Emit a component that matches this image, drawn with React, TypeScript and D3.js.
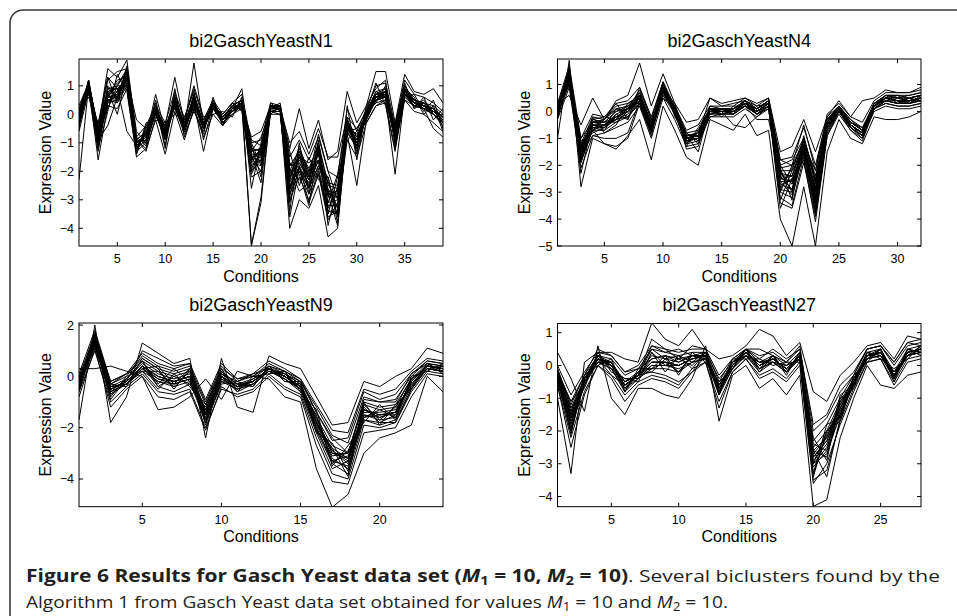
import React from 'react';
import * as d3 from 'd3';

// ---------- data ----------
const n1Title = 'bi2GaschYeastN1';
const n4Title = 'bi2GaschYeastN4';
const n9Title = 'bi2GaschYeastN9';
const n27Title = 'bi2GaschYeastN27';

const n1XTicks = [5, 10, 15, 20, 25, 30, 35];
const n1YTicks = [-4, -3, -2, -1, 0, 1];
const n4XTicks = [5, 10, 15, 20, 25, 30];
const n4YTicks = [-5, -4, -3, -2, -1, 0, 1];
const n9XTicks = [5, 10, 15, 20];
const n9YTicks = [-4, -2, 0, 2];
const n27XTicks = [5, 10, 15, 20, 25];
const n27YTicks = [-4, -3, -2, -1, 0, 1];

const n1Lines: number[][] = [
  [-0.1,1.2,-0.6,0.9,1.0,1.5,-1.2,-0.9,0.2,-0.5,0.6,-0.4,0.7,-0.3,0.4,-0.1,0.3,0.5,-1.2,-1.3,0.3,0.3,-2.0,-1.2,-2.0,-1.0,-2.5,-2.6,-0.3,-0.9,0.1,0.7,0.8,-0.6,0.9,0.5,0.4,0.2,-0.1],
  [-0.3,0.9,-1.0,0.4,0.5,1.1,-0.9,-0.6,0.0,-0.8,0.3,-0.6,0.4,-0.5,0.2,-0.3,0.1,0.3,-1.8,-1.6,0.1,0.1,-2.6,-1.8,-2.5,-1.6,-3.1,-3.0,-0.6,-1.2,-0.1,0.5,0.6,-0.9,0.7,0.3,0.2,0.0,-0.3],
  [0.2,1.1,-0.5,1.6,1.3,1.9,-0.8,-0.4,0.3,-0.3,0.8,-0.2,0.9,-0.2,0.5,0.0,0.4,0.7,-1.0,-0.9,0.4,0.3,-1.5,-0.9,-1.6,-0.8,-2.0,-2.2,0.2,-0.6,0.2,1.0,1.1,-0.4,1.2,0.7,0.6,0.4,0.1],
  [-2.3,1.0,-1.6,0.3,0.2,0.9,-1.5,-1.2,-0.2,-1.4,0.1,-0.9,0.2,-0.8,0.0,-0.4,0.0,0.2,-2.2,-2.0,0.0,0.0,-3.0,-2.2,-3.0,-2.0,-3.6,-3.4,-0.9,-1.5,-0.3,0.3,0.4,-1.2,0.5,0.1,0.0,-0.3,-0.6],
  [0.0,0.8,-0.7,0.7,1.1,1.4,-1.1,-0.8,0.7,-0.6,0.5,-0.5,1.8,-0.4,0.3,-0.2,0.2,0.4,-4.6,-3.1,0.2,0.2,-2.1,-1.4,-2.1,-1.2,-2.7,-2.7,-0.3,-1.0,0.0,0.6,0.7,-0.7,0.8,0.4,0.3,0.1,-0.2],
  [-0.4,1.2,-0.9,-0.4,0.6,1.2,-1.3,-1.0,0.0,-0.9,0.3,-0.6,0.4,-1.3,0.2,-0.3,0.1,0.3,-1.6,-1.5,0.1,0.2,-2.4,-1.7,-2.3,-1.4,-2.9,-2.9,-0.5,-1.1,-0.1,0.5,0.6,-0.8,0.7,0.3,0.2,0.0,-0.3],
  [0.1,0.7,-0.4,1.2,1.5,1.6,-0.9,-0.6,0.2,-0.4,1.3,-0.3,0.6,-0.3,0.4,-0.1,0.3,0.5,-1.3,-1.2,0.3,0.3,-1.8,-1.3,-1.9,-1.1,-2.4,-2.5,-0.2,-0.8,0.1,0.8,0.9,-0.5,1.0,0.5,0.4,0.3,0.0],
  [-0.2,1.0,-0.8,0.5,0.4,1.0,-1.0,-0.7,0.1,-0.7,0.4,-0.5,0.5,-0.4,0.3,-0.2,0.2,0.4,-1.4,-1.4,0.2,0.2,-4.0,-3.0,-3.3,-2.5,-4.3,-4.0,-0.4,-1.0,0.0,0.6,0.7,-0.8,0.8,0.4,0.3,0.1,-0.2],
  [0.3,1.1,-0.6,0.8,0.9,-0.6,-1.1,-0.8,0.1,-0.6,0.5,-0.4,0.5,-0.3,0.3,-0.2,0.2,0.4,-1.3,-1.2,0.2,0.3,-1.2,0.2,-1.2,-0.2,-1.6,-1.3,0.8,-0.3,0.3,1.5,1.5,-0.3,1.4,0.8,0.7,0.9,0.4],
  [-0.1,0.9,-0.7,0.6,0.7,1.3,-0.2,-0.5,0.0,-0.7,0.4,-0.5,0.4,-0.4,0.2,-0.2,0.1,0.3,-0.8,-0.6,0.3,0.2,-1.0,-0.6,-1.4,-0.5,-1.5,-1.5,-0.1,-0.5,0.1,0.4,0.5,-0.6,0.6,0.3,0.2,0.1,-0.2],
  [-0.3,1.0,-0.9,0.5,0.6,1.2,-1.0,-0.8,0.1,-0.8,0.3,-0.5,0.5,-0.5,0.3,-0.2,0.2,0.4,-1.7,-1.8,0.2,0.2,-2.5,-1.9,-2.4,-1.6,-3.2,-3.2,-0.7,-2.5,-0.2,0.5,0.6,-2.1,0.7,0.3,0.2,-0.5,-0.8],
  [0.0,1.1,-0.7,0.7,0.8,1.4,-0.9,-1.2,0.2,-0.6,0.5,-0.4,0.6,-0.4,0.4,-0.1,0.3,0.5,-1.5,-1.4,0.2,0.3,-2.2,-1.6,-2.2,-1.3,-2.7,-2.8,-0.4,-1.0,0.0,0.7,0.7,-0.8,0.8,0.4,0.3,0.1,-0.1],
  [-0.2,0.9,-0.8,0.4,0.8,1.2,-1.1,-0.7,0.0,-0.8,0.4,-0.6,0.5,-0.4,0.2,-0.2,0.1,0.3,-4.6,-2.9,0.1,0.1,-2.3,-1.5,-2.3,-1.3,-2.8,-2.9,-0.4,-1.1,-0.1,0.6,0.6,-0.9,0.7,0.4,0.2,0.0,-0.3],
  [-0.1,1.0,-0.8,0.6,0.7,1.3,-1.0,-0.9,0.1,-0.7,0.4,-0.5,0.5,-0.4,0.3,-0.2,0.2,0.9,-1.5,-1.3,0.2,0.2,-2.2,-1.4,-2.2,-1.3,-2.8,-2.7,-0.4,-0.9,0.0,0.6,0.7,-0.7,0.8,0.4,0.3,0.1,-0.2],
  [-0.2,1.0,-0.7,0.6,0.6,1.3,-1.0,-0.7,0.1,-0.7,0.5,-0.5,0.5,-0.4,0.3,-0.2,0.2,0.4,-0.9,-1.1,0.3,0.2,-1.7,-2.0,-2.6,-1.8,-2.2,-3.6,-0.4,-1.0,0.0,0.6,0.8,-0.8,0.8,0.4,0.3,0.1,-0.2],
  [-0.2,1.1,-0.8,0.6,0.7,1.3,-1.0,-0.7,0.1,-0.7,0.4,-0.5,0.5,-0.4,0.3,-0.2,0.2,0.4,-2.0,-1.6,0.2,0.2,-2.8,-2.0,-2.8,-1.9,-3.4,-3.5,-0.4,-1.0,0.0,0.6,0.7,-0.8,0.8,0.4,0.3,0.1,-0.2],
  [0.2,0.6,-0.3,1.3,0.4,1.7,-0.6,-1.0,0.4,-1.1,0.9,-0.8,0.2,-0.7,0.6,-0.4,0.4,0.2,-1.1,-2.2,0.4,0.1,-1.3,-2.5,-1.5,-2.3,-2.2,-3.8,-0.1,-1.4,0.3,0.9,1.2,-1.1,0.6,0.7,0.1,0.5,-0.5],
  [-0.5,1.2,-1.2,0.1,1.4,0.8,-1.4,-0.3,-0.2,-0.3,0.0,-0.2,1.0,-0.1,0.0,0.1,-0.1,0.6,-2.6,-1.0,0.0,0.3,-3.4,-1.0,-2.8,-0.9,-3.5,-2.2,-0.9,-0.6,-0.3,0.3,0.5,-0.4,1.1,0.2,0.6,-0.2,0.2],
  [0.1,1.0,-0.4,0.8,0.0,1.4,-1.3,-0.5,0.3,-1.2,0.7,-0.1,0.8,-0.9,0.3,0.0,0.4,0.1,-1.9,-1.3,0.3,0.2,-2.9,-1.3,-2.0,-1.7,-2.6,-3.3,0.3,-1.6,0.1,1.1,0.3,-1.3,0.9,0.6,0.0,0.3,-0.6],
  [-0.6,0.8,-1.3,0.9,0.9,1.0,-0.9,-1.3,-0.1,-0.4,0.2,-0.6,0.3,-0.2,0.5,-0.3,0.0,0.3,-1.0,-1.8,0.2,0.4,-1.7,-2.1,-3.2,-1.1,-3.9,-2.5,-0.6,-0.5,-0.1,0.7,0.9,-0.5,0.5,0.3,0.5,0.0,-0.4],
  [0.0,1.2,-0.6,0.2,1.0,1.6,-1.1,-0.8,0.5,-0.9,0.6,-0.3,0.6,-0.5,0.2,-0.1,0.3,0.5,-1.3,-0.8,0.1,0.0,-2.7,-1.5,-1.7,-1.4,-3.1,-2.1,-0.2,-1.2,0.1,0.4,1.0,-1.0,0.7,0.5,0.2,0.2,-0.1],
  [-0.4,0.9,-0.9,1.0,0.5,1.1,-1.4,-0.4,0.0,-0.6,0.3,-0.7,0.1,-0.6,0.4,-0.4,0.2,0.2,-2.1,-1.4,0.3,0.2,-1.9,-2.7,-2.4,-2.1,-3.4,-3.4,-0.7,-0.9,-0.2,0.6,0.4,-0.6,0.9,0.2,0.4,0.0,-0.3],
  [-0.1,1.1,-0.5,0.6,1.2,1.3,-0.8,-1.1,0.2,-0.5,0.5,-0.4,0.4,-0.3,0.3,-0.2,0.1,0.4,-1.7,-1.2,0.2,0.3,-2.3,-1.1,-2.2,-0.7,-2.0,-3.0,-0.3,-1.3,0.0,0.8,0.6,-0.9,0.8,0.5,0.3,0.2,-0.2],
  [-0.2,1.0,-1.1,0.4,0.7,1.5,-1.2,-0.6,0.1,-0.8,0.4,-0.5,0.7,-0.4,0.3,-0.2,0.2,0.4,-1.4,-2.4,0.2,0.2,-3.6,-1.9,-2.6,-1.8,-2.8,-3.9,-0.5,-0.7,0.0,0.5,0.8,-0.7,0.7,0.4,0.3,0.1,-0.2],
  [0.1,1.1,-0.7,1.3,0.9,1.2,-1.0,-0.9,0.2,-0.7,0.6,-0.5,0.3,-0.5,0.4,-0.2,0.2,0.3,-1.2,-1.7,0.3,0.2,-2.0,-2.3,-2.0,-1.6,-2.4,-3.3,-0.3,-0.8,0.1,0.7,0.6,-0.8,1.0,0.4,0.3,0.2,-0.3],
  [-0.3,0.8,-0.8,0.9,0.6,1.6,-1.1,-0.7,0.2,-0.6,0.5,-0.3,0.5,-0.4,0.2,-0.1,0.2,0.4,-2.0,-1.3,0.2,0.3,-2.6,-1.4,-2.6,-1.2,-3.3,-2.6,-0.5,-1.0,-0.1,0.6,0.8,-0.6,0.9,0.4,0.2,0.1,-0.2],
  [-0.2,1.0,-0.6,0.6,1.0,1.0,-1.2,-0.6,0.0,-0.7,0.3,-0.6,0.6,-0.5,0.3,-0.3,0.1,0.5,-1.6,-1.2,0.2,0.2,-1.8,-1.7,-2.3,-1.3,-2.7,-3.5,-0.4,-1.1,0.0,0.5,0.7,-0.9,0.7,0.3,0.4,0.0,-0.3],
  [0.0,1.1,-1.0,0.5,0.5,1.4,-0.9,-1.0,0.1,-0.8,0.5,-0.4,0.4,-0.3,0.4,-0.2,0.3,0.3,-1.5,-2.0,0.1,0.2,-3.1,-1.8,-3.1,-2.1,-3.7,-3.1,-0.6,-1.2,0.0,0.7,0.8,-0.8,0.8,0.5,0.3,0.2,-0.1],
];

const n4Lines: number[][] = [
  [0.0,1.5,-1.3,-0.3,-0.4,0.0,0.2,0.7,-0.4,1.0,0.1,-0.9,-0.8,0.1,0.1,0.1,0.4,0.1,0.4,-2.2,-2.2,-1.0,-2.7,-0.3,0.2,-0.4,-0.7,0.3,0.6,0.6,0.6,0.7],
  [-0.2,1.1,-1.8,-0.7,-0.7,-0.4,-0.2,0.3,-0.8,0.6,-0.1,-1.2,-1.1,-0.1,-0.1,-0.1,0.2,-0.1,0.2,-2.9,-3.0,-1.6,-3.4,-0.7,0.0,-0.6,-0.9,0.1,0.4,0.3,0.3,0.4],
  [-1.0,1.9,-2.8,-1.0,-1.2,-1.4,-0.9,-0.3,-1.8,0.2,-0.7,-1.7,-2.0,-0.3,-0.5,-0.7,-0.1,-0.9,-0.7,-4.0,-5.0,-2.8,-5.0,-1.5,-0.3,-1.0,-1.2,-0.2,-0.3,-0.3,-0.2,0.0],
  [0.3,0.6,-0.5,0.5,-0.3,0.4,0.6,1.8,0.2,1.4,0.3,-0.4,-0.3,0.5,0.3,0.4,0.5,0.3,0.5,-1.5,-1.3,-0.3,-1.5,-0.2,0.4,-0.2,0.4,0.5,0.8,0.7,0.7,0.9],
  [0.1,1.3,-1.4,-0.5,-0.6,-0.2,0.0,0.5,-0.6,0.8,0.0,-1.0,-0.9,0.0,0.0,0.0,0.3,0.0,0.3,-2.6,-2.6,-1.3,-3.1,-0.5,0.1,-0.5,-0.8,0.2,0.5,0.4,0.4,0.5],
  [-0.1,1.4,-1.6,-0.9,-1.0,-1.0,-0.8,0.4,-0.7,0.9,0.0,-1.1,-1.0,-0.1,0.0,-0.1,0.2,-0.1,0.2,-2.7,-2.9,-1.4,-3.3,-0.6,0.0,-0.6,-0.9,0.1,0.4,0.4,0.3,0.4],
  [0.0,1.2,-1.2,-0.2,-0.3,0.2,0.3,0.6,-0.5,0.7,0.2,-0.8,-0.7,0.1,0.1,0.1,0.3,0.1,0.4,-2.0,-1.8,-1.0,-2.4,-0.3,0.2,-0.3,-0.6,0.3,0.6,0.5,0.5,0.6],
  [0.2,1.6,-1.5,-0.6,-0.5,-0.3,0.1,0.8,-0.3,1.1,0.1,-1.4,-1.3,0.1,0.0,0.0,0.3,0.0,0.3,-3.2,-3.5,-1.7,-3.8,-0.8,0.0,-0.6,-1.0,0.1,0.3,0.2,0.2,0.3],
  [-0.1,1.0,-1.0,-0.4,-0.4,0.0,0.1,0.4,-0.6,0.8,0.3,-1.0,-0.9,0.5,0.2,0.3,0.4,0.2,0.3,-1.8,-1.7,-0.6,-2.0,-0.2,0.2,-0.4,-0.7,0.2,0.6,0.5,0.5,0.6],
  [0.0,1.3,-1.9,-0.6,-0.6,-0.3,-0.1,0.5,-0.7,0.8,-0.1,-1.1,-1.0,-0.2,-0.1,-0.1,0.2,-0.1,0.2,-2.8,-2.5,-1.5,-2.9,-0.6,0.1,-0.5,-0.8,0.2,0.5,0.4,0.4,0.5],
  [0.1,1.3,-1.5,-0.5,-0.5,-0.2,0.0,0.5,-0.6,0.8,0.0,-1.0,-0.9,0.0,0.0,-0.5,-0.6,-0.2,0.2,-2.4,-2.4,-1.2,-3.0,-0.5,0.1,-0.5,-0.8,0.2,0.5,0.4,0.4,0.5],
  [-0.2,1.2,-1.4,-0.7,-1.2,-1.3,-1.0,0.3,-0.5,0.7,0.0,-0.9,-0.8,0.0,-0.1,0.0,0.2,-0.3,-0.3,-2.3,-2.7,-1.3,-3.2,-0.4,0.1,-0.5,-0.8,0.2,0.5,0.4,0.4,0.5],
  [0.0,1.4,-1.6,-0.4,-0.5,-0.1,0.1,0.6,-0.7,0.9,0.1,-1.1,-0.8,0.1,0.1,0.1,0.4,0.1,0.4,-2.5,-2.6,-1.4,-2.8,-0.5,0.1,-0.5,-0.8,0.2,0.5,0.4,0.4,0.5],
  [0.1,1.1,-1.3,-0.4,-0.3,0.1,0.2,0.5,-0.5,0.7,0.0,-1.0,-0.9,0.0,0.1,0.0,0.3,0.0,0.3,-2.1,-2.0,-1.1,-2.6,-0.4,0.2,-0.4,-0.7,0.3,0.5,0.4,0.4,0.5],
  [-0.1,1.3,-1.7,-0.5,-0.6,-0.2,0.0,0.4,-0.6,0.8,0.0,-1.0,-1.0,0.0,0.0,0.0,0.3,0.0,0.3,-3.0,-3.2,-1.5,-3.6,-0.6,0.0,-0.5,-0.8,0.1,0.4,0.3,0.3,0.4],
  [0.0,1.2,-1.4,-0.5,-0.5,-0.2,0.0,0.5,-0.6,0.8,0.0,-1.0,-0.9,0.0,0.0,0.0,0.3,0.0,0.3,-2.5,-2.4,-1.3,-3.0,-0.5,0.1,-0.5,-0.8,0.2,0.5,0.4,0.4,0.5],
  [0.3,1.7,-1.0,-0.1,-0.2,0.3,0.4,0.9,-0.2,1.1,0.2,-0.7,-0.5,0.2,0.2,0.2,0.5,0.2,0.5,-1.8,-2.0,-0.5,-2.2,-0.1,0.3,-0.2,-0.4,0.4,0.7,0.7,0.7,0.8],
  [-0.3,0.9,-2.1,-0.9,-0.8,-0.6,-0.4,0.2,-1.0,0.5,-0.3,-1.3,-1.2,-0.2,-0.2,-0.2,0.1,-0.2,0.1,-3.4,-3.6,-1.9,-3.9,-0.9,-0.1,-0.7,-1.0,0.0,0.2,0.1,0.1,0.2],
  [0.2,1.0,-1.2,-0.7,-0.3,0.3,-0.3,0.9,-0.3,0.5,0.1,-1.3,-0.6,0.1,-0.2,0.2,0.2,0.1,0.4,-2.1,-3.3,-1.0,-2.5,-0.4,0.2,-0.6,-0.9,0.3,0.4,0.6,0.3,0.6],
  [-0.3,1.6,-1.7,-0.2,-0.8,-0.5,0.2,0.2,-0.8,1.1,-0.2,-0.8,-1.2,0.0,0.1,-0.1,0.4,-0.1,0.1,-3.0,-2.0,-1.6,-3.5,-0.7,0.0,-0.4,-0.6,0.1,0.6,0.3,0.5,0.4],
  [0.1,1.2,-2.3,-0.4,-0.4,-0.4,0.0,0.7,-0.5,0.6,0.1,-0.9,-1.5,0.1,0.0,0.1,0.3,0.0,0.3,-2.4,-2.9,-1.2,-2.2,-0.3,0.1,-0.5,-0.9,0.2,0.5,0.5,0.6,0.7],
  [-0.2,1.4,-1.1,-0.8,-0.6,0.1,-0.2,0.3,-0.9,0.9,-0.1,-1.2,-0.7,-0.1,0.0,0.0,0.2,0.0,0.2,-3.6,-2.5,-1.8,-4.1,-0.9,0.0,-0.7,-1.1,0.1,0.3,0.2,0.2,0.3],
  [0.2,1.5,-1.6,-0.3,-0.2,-0.3,0.3,0.5,-0.4,0.7,0.2,-1.1,-1.0,0.2,0.1,0.1,0.4,0.1,0.4,-2.2,-3.0,-0.9,-2.6,-0.4,0.2,-0.3,-0.7,0.3,0.6,0.6,0.5,0.6],
  [-0.1,1.1,-1.9,-0.6,-0.7,-0.1,-0.3,0.6,-0.7,0.8,0.0,-0.8,-1.1,0.0,-0.1,0.0,0.3,-0.1,0.3,-3.3,-2.2,-1.5,-3.7,-0.6,0.0,-0.5,-0.8,0.2,0.4,0.3,0.3,0.5],
  [0.0,1.6,-1.4,-0.4,-0.3,0.1,0.0,0.6,-0.5,1.0,0.1,-1.0,-0.8,0.1,0.0,0.1,0.3,0.1,0.3,-2.0,-2.7,-1.4,-3.3,-0.5,0.1,-0.5,-0.8,0.2,0.5,0.4,0.5,0.6],
  [0.1,1.0,-1.7,-0.7,-0.5,-0.3,-0.2,0.4,-0.8,0.7,0.0,-1.1,-1.0,0.0,0.0,0.0,0.2,0.0,0.3,-2.9,-2.1,-1.1,-2.9,-0.6,0.1,-0.6,-0.9,0.1,0.4,0.3,0.4,0.4],
  [-0.2,1.3,-1.3,-0.5,-0.6,-0.2,0.1,0.5,-0.6,0.8,0.1,-0.9,-0.9,0.0,0.1,0.0,0.3,0.0,0.3,-2.6,-3.1,-1.5,-3.4,-0.5,0.1,-0.5,-0.8,0.2,0.5,0.5,0.4,0.5],
  [0.1,1.4,-1.8,-0.4,-0.4,-0.2,0.0,0.6,-0.6,0.9,0.0,-1.0,-0.9,0.0,0.0,0.0,0.3,0.0,0.3,-2.3,-2.4,-1.0,-2.6,-0.4,0.1,-0.4,-0.7,0.2,0.5,0.4,0.4,0.5],
];

const n9Lines: number[][] = [
  [-0.2,1.6,-0.4,-0.1,0.6,0.2,0.0,0.2,-1.3,0.2,-0.3,-0.1,0.4,0.1,-0.3,-1.6,-2.7,-3.0,-1.1,-1.3,-1.2,-0.1,0.5,0.4],
  [-0.5,1.2,-0.7,-0.3,0.2,-0.2,-0.4,-0.2,-1.8,-0.2,-0.5,-0.3,0.2,-0.1,-0.5,-2.0,-3.3,-3.5,-1.5,-1.7,-1.6,-0.4,0.3,0.2],
  [-1.7,2.0,-1.8,-0.8,1.3,0.9,0.5,0.7,-2.4,0.7,-1.2,-1.4,0.8,0.5,0.3,-0.8,-1.9,-1.8,-0.2,-0.4,0.0,0.3,1.1,0.9],
  [0.3,0.3,0.4,0.2,0.0,-1.3,-1.2,-0.8,-0.1,-0.9,0.2,0.0,-0.1,-0.8,-1.0,-3.6,-5.1,-4.6,-3.0,-2.4,-2.2,-1.9,0.0,-0.6],
  [-0.3,1.4,-0.5,-0.2,0.4,0.0,-0.2,0.0,-1.5,0.0,-0.4,-0.2,0.3,0.0,-0.4,-1.8,-3.0,-3.2,-1.3,-1.5,-1.4,-0.2,0.4,0.3],
  [-0.1,1.7,-0.3,0.0,0.8,0.4,0.2,0.4,-1.0,0.4,-0.2,0.0,0.5,0.2,-0.2,-1.2,-2.3,-2.6,-0.8,-1.0,-0.9,0.0,0.6,0.5],
  [-0.6,1.0,-1.0,-0.4,0.1,-0.6,-0.7,-0.5,-2.0,-0.5,-0.7,-0.5,0.1,-0.4,-0.7,-2.4,-3.8,-4.0,-1.9,-2.0,-1.8,-0.6,0.2,0.1],
  [-0.2,1.5,-0.6,-0.1,0.5,0.1,-0.1,0.1,-1.4,0.1,-0.3,-0.2,0.3,0.1,-0.3,-1.7,-2.9,-3.4,-1.2,-1.8,-1.5,-0.2,0.4,0.3],
  [-0.4,1.3,-0.4,-0.3,0.3,-0.1,-0.3,-0.1,-1.6,-0.1,-0.4,-0.3,0.2,0.0,-0.5,-1.9,-3.1,-3.0,-1.4,-1.4,-1.3,-0.3,0.3,0.2],
  [-0.3,1.4,-0.5,-0.2,1.0,0.7,0.4,0.5,-1.5,0.0,-0.4,-0.2,0.3,0.0,-0.4,-1.8,-2.8,-3.2,-1.3,-1.6,-1.4,-0.2,0.4,0.3],
  [-0.2,1.5,-0.5,-0.2,0.4,-0.4,-0.6,-0.3,-1.4,0.1,-0.4,-0.2,0.3,0.0,-0.4,-1.8,-3.2,-3.6,-1.6,-1.5,-1.5,-0.3,0.4,0.3],
  [0.0,1.6,-0.2,0.1,0.7,0.3,0.1,0.3,-1.1,0.3,-0.1,0.0,0.4,0.2,-0.1,-1.4,-2.5,-2.4,-0.6,-0.9,-0.7,0.1,0.6,0.5],
  [-0.4,1.2,-0.6,-0.3,0.3,-0.2,-0.3,-0.1,-1.7,-0.1,-0.5,-0.3,0.2,-0.1,-0.5,-2.1,-3.4,-3.8,-1.7,-1.9,-1.7,-0.5,0.3,0.2],
  [-0.3,1.4,-0.5,-0.2,0.4,0.0,-0.2,0.0,-1.5,0.0,-0.4,-0.2,0.3,0.0,-0.4,-1.6,-3.0,-3.0,-1.0,-1.2,-1.1,-0.1,0.4,0.3],
  [-0.3,1.3,-0.6,-0.3,0.4,-0.1,-0.2,0.0,-1.5,0.0,-0.4,-0.2,0.3,0.0,-0.4,-2.0,-3.3,-3.1,-1.5,-1.6,-1.4,-0.2,0.4,0.3],
  [-0.3,1.4,-0.5,-0.2,0.4,0.0,-0.2,0.0,-1.5,0.0,-0.4,-0.2,0.3,0.0,-0.4,-1.8,-2.9,-3.3,-1.3,-1.5,-1.4,-0.2,0.4,0.3],
  [0.1,1.8,-0.2,0.1,0.9,0.5,0.3,0.5,-0.9,0.5,-0.1,0.1,0.6,0.3,-0.1,-1.1,-2.1,-2.2,-0.5,-0.7,-0.5,0.2,0.7,0.6],
  [-0.8,1.1,-1.2,-0.5,0.0,-0.8,-0.9,-0.6,-2.1,-0.4,-0.8,-0.6,0.0,-0.5,-0.8,-2.7,-4.1,-4.2,-2.2,-2.1,-2.0,-0.8,0.1,0.0],
  [-0.1,1.2,-0.8,0.0,0.2,-0.5,0.1,-0.4,-1.2,0.3,-0.6,0.0,0.1,0.2,-0.6,-1.3,-3.5,-2.7,-1.8,-1.1,-1.7,0.0,0.2,0.5],
  [-0.5,1.7,-0.3,-0.4,0.7,0.3,-0.5,0.3,-1.8,-0.3,-0.2,-0.4,0.4,-0.2,-0.2,-2.2,-2.6,-3.7,-1.0,-1.9,-1.1,-0.5,0.5,0.1],
  [-0.2,1.3,-0.9,-0.1,0.6,-0.3,0.3,-0.2,-1.3,0.2,-0.5,-0.1,0.2,0.1,-0.5,-1.5,-3.4,-2.9,-1.6,-1.3,-1.6,-0.1,0.3,0.4],
  [-0.6,1.5,-0.4,-0.3,0.2,0.2,-0.4,0.2,-1.9,-0.2,-0.3,-0.4,0.4,-0.2,-0.3,-2.1,-2.8,-3.9,-1.1,-1.7,-1.2,-0.4,0.5,0.2],
  [0.0,1.0,-0.3,0.1,0.6,-0.4,0.0,-0.3,-1.1,0.1,-0.2,0.1,0.3,0.1,-0.2,-1.4,-2.4,-3.0,-0.9,-1.0,-1.0,0.1,0.5,0.4],
  [-0.4,1.6,-0.7,-0.2,0.3,0.4,-0.3,0.3,-1.7,0.0,-0.6,-0.3,0.3,-0.1,-0.6,-2.2,-3.6,-3.3,-1.7,-1.8,-1.8,-0.5,0.3,0.2],
];

const n27Lines: number[][] = [
  [-0.2,-1.4,-0.4,0.3,0.1,-0.5,-0.2,0.3,0.2,0.1,0.3,0.4,-0.6,0.1,0.5,0.1,0.3,0.0,0.4,-2.5,-2.0,-1.1,-0.4,0.4,0.5,-0.2,0.5,0.6],
  [-0.4,-1.9,-0.6,0.1,-0.1,-0.8,-0.4,-0.1,-0.1,-0.2,0.1,0.2,-0.9,-0.1,0.3,-0.1,0.1,-0.2,0.2,-3.1,-2.6,-1.5,-0.6,0.2,0.3,-0.4,0.3,0.4],
  [0.4,-0.4,-1.4,0.6,-1.0,-1.5,-0.7,-0.7,-0.9,-1.0,-0.4,0.6,-1.7,-0.3,0.0,-0.7,-0.4,-0.9,-0.3,-4.3,-4.1,-2.2,-1.0,0.0,-0.6,-0.7,-0.3,-0.2],
  [-1.0,-3.3,0.1,0.4,0.4,0.2,0.1,1.3,0.8,0.6,1.1,0.5,0.2,0.3,0.6,1.1,0.9,0.3,0.7,-0.8,-1.1,-0.3,0.1,0.6,0.7,0.2,0.9,0.8],
  [-0.3,-1.6,-0.5,0.2,0.0,-0.6,-0.3,0.1,0.1,0.0,0.2,0.3,-0.7,0.0,0.4,0.0,0.2,-0.1,0.3,-2.8,-2.3,-1.3,-0.5,0.3,0.4,-0.3,0.4,0.5],
  [-0.1,-1.2,-0.3,0.3,0.2,-0.3,-0.1,0.5,0.4,0.3,0.4,0.4,-0.4,0.1,0.5,0.3,0.4,0.1,0.5,-2.0,-1.6,-0.8,-0.3,0.5,0.6,0.0,0.6,0.7],
  [-0.6,-2.5,-0.9,0.0,-0.4,-1.1,-0.6,-0.4,-0.5,-0.7,-0.2,0.1,-1.3,-0.2,0.2,-0.4,-0.2,-0.5,0.0,-3.6,-3.0,-1.8,-0.8,0.1,0.2,-0.6,0.1,0.2],
  [-0.2,-1.5,-0.4,0.2,0.1,-0.5,-0.3,0.6,0.4,0.5,0.3,0.3,-0.6,0.0,0.4,0.0,0.2,-0.1,0.3,-2.7,-2.2,-1.2,-0.5,0.3,0.4,-0.3,0.4,0.5],
  [-0.3,-1.7,-0.5,0.1,0.0,-0.7,-0.3,-0.2,-0.3,-0.5,-0.2,0.3,-0.8,0.0,0.3,-0.2,0.1,-0.2,0.2,-3.0,-2.5,-1.4,-0.5,0.2,0.4,-0.3,0.3,0.4],
  [-0.2,-1.3,-0.4,0.3,0.0,-0.5,-0.3,0.2,0.3,0.1,0.3,0.3,-0.6,0.1,0.4,0.1,0.2,-0.1,0.3,-2.6,-3.4,-1.6,-0.5,0.3,0.4,-0.3,0.4,0.5],
  [-0.3,-1.8,-0.6,0.2,0.1,-0.6,-0.3,0.0,0.0,0.0,0.2,0.3,-0.7,0.0,0.4,0.0,0.2,-0.1,0.3,-3.3,-2.1,-1.2,-0.4,0.3,0.4,-0.3,0.4,0.5],
  [-0.4,-1.6,-0.5,0.2,-0.3,-0.6,-0.3,0.1,0.1,0.0,0.2,0.3,-0.7,0.0,0.4,0.0,0.2,-0.1,0.3,-2.9,-2.4,-1.4,-0.6,0.3,0.5,-0.3,0.4,0.5],
  [-0.2,-1.1,-0.3,0.5,0.3,-0.2,-0.1,0.2,0.3,0.2,0.6,0.5,-0.5,0.2,0.5,0.5,0.3,0.1,0.6,-2.3,-1.8,-1.0,-0.3,0.5,0.6,0.1,0.7,0.6],
  [-0.3,-2.0,-0.5,0.1,-0.1,-0.7,-0.4,0.0,0.0,-0.1,0.1,0.2,-0.8,-0.1,0.3,-0.1,0.1,-0.2,0.2,-3.0,-2.7,-1.5,-0.6,0.2,0.3,-0.4,0.3,0.4],
  [-0.3,-1.6,-0.5,0.2,0.0,-0.6,-0.3,0.1,0.1,0.0,0.2,0.3,-0.7,0.0,0.4,0.0,0.2,-0.1,0.3,-2.8,-2.3,-1.3,-0.5,0.3,0.4,-0.3,0.4,0.5],
  [-0.2,-1.5,-0.4,0.2,0.0,-0.6,-0.3,0.8,0.5,0.2,0.3,0.3,-0.7,0.0,0.4,0.0,0.2,-0.1,0.3,-2.6,-2.2,-1.3,-0.5,0.3,0.4,-0.3,0.4,0.5],
  [0.0,-0.9,-0.2,0.4,0.3,-0.2,0.0,0.6,0.5,0.4,0.5,0.5,-0.3,0.2,0.5,0.2,0.5,0.2,0.5,-1.8,-1.5,-0.6,-0.2,0.5,0.6,0.1,0.7,0.8],
  [-0.6,-2.2,-0.8,0.0,-0.3,-0.9,-0.5,-0.3,-0.4,-0.6,-0.1,0.1,-1.1,-0.2,0.2,-0.3,-0.1,-0.4,0.1,-3.5,-3.2,-1.7,-0.7,0.1,0.2,-0.5,0.2,0.3],
  [-0.1,-1.3,-0.7,0.4,-0.2,-0.4,-0.5,0.4,-0.2,0.3,-0.1,0.4,-0.9,0.2,0.2,0.2,0.0,0.1,0.1,-2.2,-2.9,-1.0,-0.7,0.4,0.2,-0.1,0.2,0.6],
  [-0.5,-2.0,-0.3,0.0,0.2,-0.8,-0.1,-0.1,0.3,-0.3,0.4,0.1,-0.5,-0.1,0.5,-0.2,0.3,-0.3,0.4,-3.3,-1.8,-1.6,-0.3,0.1,0.5,-0.5,0.5,0.3],
  [-0.2,-1.1,-0.6,0.3,-0.1,-0.4,-0.4,0.4,0.0,0.2,0.0,0.4,-0.9,0.1,0.3,0.1,0.1,0.0,0.2,-2.4,-2.6,-0.9,-0.6,0.4,0.3,-0.2,0.3,0.6],
  [-0.4,-2.1,-0.4,0.1,0.1,-0.8,-0.2,-0.2,0.2,-0.2,0.3,0.2,-0.6,-0.1,0.5,-0.1,0.3,-0.2,0.4,-3.4,-2.0,-1.7,-0.4,0.2,0.5,-0.4,0.5,0.4],
  [-0.3,-1.4,-0.5,0.3,0.0,-0.5,-0.3,0.5,0.2,0.3,0.1,0.4,-0.8,0.1,0.3,0.1,0.1,0.0,0.2,-2.6,-2.8,-1.1,-0.6,0.4,0.3,-0.2,0.3,0.5],
  [-0.3,-1.8,-0.4,0.1,0.1,-0.7,-0.2,-0.1,0.1,-0.2,0.3,0.2,-0.6,0.0,0.5,-0.1,0.3,-0.2,0.3,-3.0,-2.0,-1.5,-0.4,0.2,0.5,-0.4,0.5,0.4],
];

// ---------- drawing ----------
const AX_FONT = '"Liberation Sans", Arial, Helvetica, sans-serif';

type PanelProps = {
  id: string;
  title: string;
  lines: number[][];
  xMax: number;
  yDomain: [number, number];
  xTicks: number[];
  yTicks: number[];
  left: number;
  right: number;
  top: number;
  bottom: number;
  titleY: number;
};

const fmt = (v: number) => (v < 0 ? '\u2212' + Math.abs(v) : String(v));

function Panel(p: PanelProps) {
  const x = d3.scaleLinear().domain([1, p.xMax]).range([p.left, p.right]);
  const y = d3.scaleLinear().domain(p.yDomain).range([p.bottom, p.top]);
  const line = d3
    .line<number>()
    .x((_, i) => x(i + 1))
    .y((d) => y(d));
  const tl = 4;
  const cx = (p.left + p.right) / 2;
  const cy = (p.top + p.bottom) / 2;
  return (
    <g fontFamily={AX_FONT} fill="#000">
      <defs>
        <clipPath id={p.id}>
          <rect x={p.left} y={p.top} width={p.right - p.left} height={p.bottom - p.top} />
        </clipPath>
      </defs>
      <g clipPath={`url(#${p.id})`}>
        {p.lines.map((l, i) => (
          <path key={i} d={line(l) || ''} fill="none" stroke="#000" strokeWidth={1} strokeLinejoin="miter" />
        ))}
      </g>
      <rect x={p.left} y={p.top} width={p.right - p.left} height={p.bottom - p.top} fill="none" stroke="#000" strokeWidth={1} />
      {p.xTicks.map((t) => (
        <g key={'x' + t}>
          <line x1={x(t)} x2={x(t)} y1={p.bottom} y2={p.bottom - tl} stroke="#000" />
          <line x1={x(t)} x2={x(t)} y1={p.top} y2={p.top + tl} stroke="#000" />
          <text x={x(t)} y={p.bottom + 17} textAnchor="middle" fontSize={12.5}>
            {fmt(t)}
          </text>
        </g>
      ))}
      {p.yTicks.map((t) => (
        <g key={'y' + t}>
          <line x1={p.left} x2={p.left + tl} y1={y(t)} y2={y(t)} stroke="#000" />
          <line x1={p.right} x2={p.right - tl} y1={y(t)} y2={y(t)} stroke="#000" />
          <text x={p.left - 5} y={y(t)} dy="0.36em" textAnchor="end" fontSize={12.5}>
            {fmt(t)}
          </text>
        </g>
      ))}
      <text x={cx} y={p.titleY} textAnchor="middle" fontSize={18}>
        {p.title}
      </text>
      <text x={cx} y={p.bottom + 35.5} textAnchor="middle" fontSize={16}>
        Conditions
      </text>
      <text transform={`translate(${p.left - 28},${cy}) rotate(-90)`} textAnchor="middle" fontSize={16}>
        Expression Value
      </text>
    </g>
  );
}

const CAP_FONT = '"Open Sans", "Noto Sans", sans-serif';

export default function App() {
  return (
    <svg
      width={957}
      height={616}
      viewBox="0 0 957 616"
      style={{ position: 'absolute', left: 0, top: 0, display: 'block', background: '#fff' }}
    >
      <rect x={0} y={0} width={957} height={616} fill="#fff" />
      <rect x={10} y={10} width={1100} height={800} rx={13} ry={13} fill="none" stroke="#3a3a3a" strokeWidth={1.6} />
      <Panel id="c1" title={n1Title} lines={n1Lines} xMax={39} yDomain={[-4.62, 1.94]} xTicks={n1XTicks} yTicks={n1YTicks}
        left={79} right={443} top={59} bottom={246} titleY={46.5} />
      <Panel id="c2" title={n4Title} lines={n4Lines} xMax={32} yDomain={[-5, 1.95]} xTicks={n4XTicks} yTicks={n4YTicks}
        left={557.5} right={921} top={59} bottom={246} titleY={46.5} />
      <Panel id="c3" title={n9Title} lines={n9Lines} xMax={24} yDomain={[-5.08, 2.08]} xTicks={n9XTicks} yTicks={n9YTicks}
        left={79} right={443} top={323} bottom={506.7} titleY={311.3} />
      <Panel id="c4" title={n27Title} lines={n27Lines} xMax={28} yDomain={[-4.31, 1.28]} xTicks={n27XTicks} yTicks={n27YTicks}
        left={557.5} right={921} top={323.5} bottom={506.7} titleY={311.3} />
      <g fontFamily={CAP_FONT} fontSize={17} fill="#231f20">
        <text x={26} y={582} textLength={914} lengthAdjust="spacingAndGlyphs">
          <tspan fontWeight="bold">Figure 6 Results for Gasch Yeast data set (</tspan>
          <tspan fontWeight="bold" fontStyle="italic">M</tspan>
          <tspan fontWeight="bold" fontSize={12} dy={3}>1</tspan>
          <tspan fontWeight="bold" dy={-3}> = 10, </tspan>
          <tspan fontWeight="bold" fontStyle="italic">M</tspan>
          <tspan fontWeight="bold" fontSize={12} dy={3}>2</tspan>
          <tspan fontWeight="bold" dy={-3}> = 10)</tspan>
          <tspan>. Several biclusters found by the</tspan>
        </text>
        <text x={26} y={608} textLength={702} lengthAdjust="spacingAndGlyphs">
          <tspan>Algorithm 1 from Gasch Yeast data set obtained for values </tspan>
          <tspan fontStyle="italic">M</tspan>
          <tspan fontSize={12} dy={3}>1</tspan>
          <tspan dy={-3}> = 10 and </tspan>
          <tspan fontStyle="italic">M</tspan>
          <tspan fontSize={12} dy={3}>2</tspan>
          <tspan dy={-3}> = 10.</tspan>
        </text>
      </g>
    </svg>
  );
}
